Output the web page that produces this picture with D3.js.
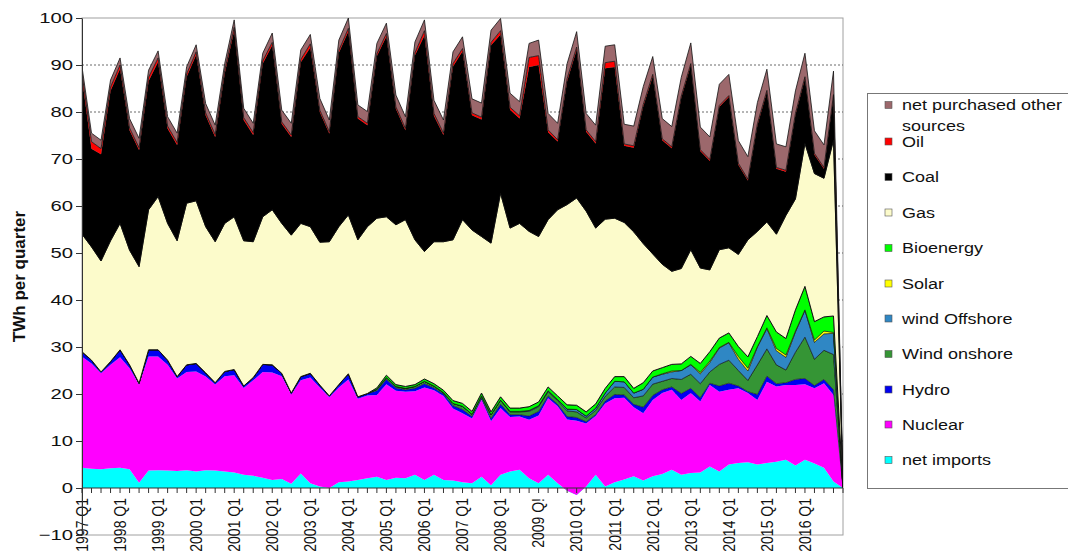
<!DOCTYPE html>
<html>
<head>
<meta charset="utf-8">
<script src="https://cdn.jsdelivr.net/npm/d3@7/dist/d3.min.js"></script>
<style>
  body { margin: 0; background: #fff; }
  svg { display: block; font-family: "Liberation Sans", Arial, sans-serif; }
</style>
</head>
<body>
<div id="chart"></div>
<script>
// Quarterly electricity supply, TWh per quarter (1997 Q1 - 2016 Q4, chart closes at 2017 Q1)
const years = [1997, 1998, 1999, 2000, 2001, 2002, 2003, 2004, 2005, 2006,
  2007, 2008, 2009, 2010, 2011, 2012, 2013, 2014, 2015, 2016];

const tickLabels = ["1997 Q1", "1998 Q1", "1999 Q1", "2000 Q1", "2001 Q1", "2002 Q1",
  "2003 Q1", "2004 Q1", "2005 Q1", "2006 Q1", "2007 Q1", "2008 Q1", "2009 Q!",
  "2010 Q1", "2011 Q1", "2012 Q1", "2013 Q1", "2014 Q1", "2015 Q1", "2016 Q1"];

const yTicks = [-10, 0, 10, 20, 30, 40, 50, 60, 70, 80, 90, 100];
const gridValues = [10, 20, 30, 40, 50, 60, 70, 80, 90];

const netImports = [
  4.3, 4.1, 4.0, 4.2,  4.3, 4.0, 1.1, 3.7,  3.8, 3.7, 3.6, 3.8,  3.5, 3.8, 3.7, 3.5,
  3.3, 2.8, 2.6, 2.2,  1.7, 1.9, 0.9, 3.1,  1.0, 0.3, 0.0, 1.2,  1.4, 1.7, 2.1, 2.4,
  1.7, 2.2, 2.1, 2.8,  1.7, 2.8, 1.7, 1.6,  1.2, 1.0, 2.4, 0.6,  2.8, 3.5, 3.9, 2.1,
  1.0, 2.8, 1.0, -0.6, -1.5, 0.3, 2.8, 0.3, 1.2, 1.8, 2.5, 1.6,  2.5, 3.0, 3.9, 2.8,
  3.2, 3.3, 4.6, 3.5,  5.0, 5.3, 5.5, 5.0,  5.3, 5.6, 6.0, 4.8,  6.0, 5.2, 4.3, 1.4,
  0];
const nuclear = [
  23.6, 22.4, 20.4, 22.0,  23.5, 21.5, 20.9, 24.3,  24.2, 22.5, 19.7, 20.9,  21.3, 19.9, 18.3, 20.3,
  20.7, 18.5, 20.3, 22.5,  22.9, 21.9, 19.0, 19.8,  22.5, 21.1, 19.3, 20.2,  21.7, 17.3, 17.6, 17.4,
  20.4, 18.5, 18.4, 17.8,  19.7, 18.0, 17.9, 15.3,  14.7, 13.8, 16.4, 13.6,  14.2, 11.6, 11.3, 12.4,
  14.4, 16.3, 16.4, 15.2,  15.8, 13.4, 12.5, 17.7,  17.9, 17.4, 14.7, 14.3,  16.2, 17.2, 17.0, 15.9,
  17.0, 15.1, 17.3, 17.0,  15.9, 15.9, 14.7, 13.7,  17.3, 16.0, 15.9, 17.1,  16.1, 16.0, 18.0, 18.4,
  0];
const hydro = [
  1.1, 0.7, 0.3, 0.7,  1.6, 0.7, 0.3, 1.4,  1.4, 1.0, 0.4, 1.5,  1.7, 0.8, 0.4, 1.0,
  1.2, 0.4, 0.6, 1.6,  1.6, 0.6, 0.3, 0.8,  0.9, 0.5, 0.3, 0.6,  1.2, 0.4, 0.4, 0.9,
  1.0, 0.6, 0.4, 0.6,  0.8, 0.5, 0.4, 0.6,  0.8, 0.4, 0.3, 0.6,  0.8, 0.5, 0.4, 0.8,
  0.9, 0.5, 0.4, 0.6,  0.7, 0.4, 0.3, 0.5,  0.8, 0.6, 0.6, 1.3,  1.0, 0.7, 0.6, 1.4,
  1.0, 0.8, 0.4, 1.2,  1.4, 0.5, 0.3, 1.2,  1.2, 0.6, 0.5, 1.2,  1.2, 0.6, 0.8, 1.1,
  0];
const windOnshore = [
  0, 0, 0, 0,  0, 0, 0, 0,  0, 0, 0, 0,  0, 0, 0, 0,
  0, 0, 0, 0,  0, 0, 0, 0,  0, 0, 0, 0,  0, 0, 0, 0.3,
  0.4, 0.3, 0.3, 0.4,  0.5, 0.4, 0.3, 0.5,  0.7, 0.5, 0.5, 0.8,  0.9, 0.6, 0.6, 1.0,
  1.0, 0.9, 0.8, 1.2,  1.2, 0.8, 0.9, 1.0,  1.6, 1.6, 1.4, 2.4,  2.4, 1.8, 1.8, 3.0,
  3.0, 3.0, 2.4, 4.6,  4.9, 3.3, 2.4, 6.3,  5.8, 4.0, 2.7, 5.8,  8.8, 5.6, 6.2, 7.5,
  0];
const windOffshore = [
  0, 0, 0, 0,  0, 0, 0, 0,  0, 0, 0, 0,  0, 0, 0, 0,
  0, 0, 0, 0,  0, 0, 0, 0,  0, 0, 0, 0,  0, 0, 0, 0,
  0, 0, 0, 0,  0, 0, 0, 0,  0, 0, 0, 0,  0, 0.1, 0.1, 0.2,
  0.2, 0.2, 0.2, 0.4,  0.5, 0.4, 0.5, 0.7,  1.2, 1.2, 1.0, 1.4,  1.5, 1.5, 1.4, 1.9,
  2.0, 2.1, 2.0, 3.5,  3.7, 2.4, 2.0, 3.8,  4.3, 3.0, 2.7, 4.3,  5.7, 3.6, 3.5, 4.5,
  0];
const solar = [
  0, 0, 0, 0,  0, 0, 0, 0,  0, 0, 0, 0,  0, 0, 0, 0,
  0, 0, 0, 0,  0, 0, 0, 0,  0, 0, 0, 0,  0, 0, 0, 0,
  0, 0, 0, 0,  0, 0, 0, 0,  0, 0, 0, 0,  0, 0, 0, 0,
  0, 0, 0, 0,  0, 0, 0, 0,  0, 0, 0, 0,  0, 0.1, 0.2, 0,
  0.1, 0.3, 0.3, 0.1,  0.1, 0.6, 0.6, 0.1,  0.2, 0.5, 0.5, 0.2,  0.1, 0.5, 0.6, 0.2,
  0];
const bioenergy = [
  0, 0, 0, 0,  0, 0, 0, 0,  0, 0, 0, 0,  0, 0, 0, 0,
  0, 0, 0, 0,  0, 0, 0, 0,  0, 0, 0, 0,  0, 0, 0, 0.3,
  0.5, 0.4, 0.4, 0.4,  0.5, 0.5, 0.5, 0.6,  0.6, 0.6, 0.6, 0.6,  0.7, 0.7, 0.7, 0.8,
  0.8, 0.8, 0.8, 0.9,  0.9, 0.9, 0.9, 1.0,  1.0, 1.1, 1.0, 1.4,  1.3, 1.3, 1.4, 1.4,
  1.7, 1.9, 2.0, 2.0,  2.0, 2.1, 2.4, 2.1,  2.6, 3.5, 3.5, 4.5,  5.0, 3.9, 3.0, 3.5,
  0];
const gas = [
  25.0, 24.1, 23.6, 25.7,  26.9, 24.4, 24.8, 29.8,  32.6, 29.1, 28.9, 34.4,  34.6, 31.1, 30.0, 31.5,
  32.5, 30.9, 28.9, 31.4,  33.0, 31.9, 33.6, 32.6,  31.2, 30.4, 32.8, 33.6,  33.8, 33.4, 35.5, 36.1,
  33.7, 34.0, 35.5, 30.8,  27.1, 30.2, 31.6, 34.2,  39.1, 38.6, 33.3, 35.9,  43.3, 38.3, 39.3, 37.3,
  35.2, 35.6, 39.6, 42.6,  44.1, 42.7, 37.4, 36.0,  33.7, 32.8, 33.3, 29.6,  24.9, 22.0, 19.8, 20.3,
  22.7, 20.3, 17.4, 18.8,  18.1, 19.6, 24.9, 22.4,  19.9, 20.8, 26.2, 23.6,  30.4, 31.5, 29.5, 37.4,
  0];
const coal = [
  33.3, 20.9, 22.7, 31.9,  32.9, 25.5, 24.8, 27.4,  28.7, 20.2, 20.4, 26.9,  31.1, 23.7, 22.3, 31.9,
  39.7, 25.7, 22.7, 32.6,  35.0, 21.2, 20.9, 34.3,  38.1, 27.7, 23.0, 37.0,  39.1, 25.8, 21.6, 34.5,
  38.4, 24.7, 19.0, 39.3,  46.0, 26.8, 22.7, 36.9,  35.8, 24.4, 24.9, 42.1,  33.8, 25.2, 22.3, 35.0,
  36.5, 18.6, 14.5, 26.3,  31.6, 16.9, 18.0, 32.1,  32.2, 16.3, 17.9, 29.2,  37.8, 26.4, 26.2, 36.4,
  39.3, 24.9, 23.2, 30.4,  32.1, 19.1, 12.6, 22.6,  27.7, 13.9, 9.3, 17.9,  13.9, 4.0, 2.0, 9.4,
  0];
const oil = [
  0.8, 1.5, 1.2, 0.8,  0.8, 0.5, 0.5, 0.8,  0.8, 0.5, 0.5, 0.6,  0.6, 0.5, 0.5, 0.6,
  0.6, 0.5, 0.5, 0.6,  0.6, 0.4, 0.4, 0.6,  0.8, 0.4, 0.4, 0.5,  0.6, 0.4, 0.4, 0.5,
  0.6, 0.4, 0.4, 0.5,  1.0, 0.5, 0.4, 0.6,  0.6, 0.5, 0.5, 0.6,  0.8, 0.5, 0.6, 2.0,
  2.0, 0.5, 0.4, 0.5,  0.5, 0.4, 0.4, 1.2,  1.2, 0.4, 0.4, 0.4,  0.4, 0.3, 0.3, 0.3,
  0.3, 0.3, 0.3, 0.3,  0.3, 0.3, 0.3, 0.3,  0.3, 0.3, 0.3, 0.3,  0.3, 0.3, 0.3, 0.3,
  0];
const otherSources = [
  1.5, 1.8, 1.8, 1.5,  1.5, 2.0, 2.0, 1.5,  1.5, 2.0, 2.0, 1.5,  1.5, 2.0, 2.0, 1.5,
  1.6, 2.0, 2.0, 1.6,  2.0, 2.5, 2.5, 2.0,  2.0, 2.5, 2.5, 2.2,  2.2, 2.5, 2.5, 2.2,
  2.2, 2.5, 2.5, 2.3,  2.3, 2.8, 2.8, 2.5,  2.5, 3.0, 3.0, 2.6,  2.6, 3.0, 3.0, 3.0,
  3.3, 3.5, 3.5, 3.2,  3.3, 3.5, 3.5, 3.5,  3.5, 4.2, 4.2, 3.8,  3.8, 4.3, 4.3, 4.0,
  4.4, 4.8, 4.8, 4.5,  4.5, 4.8, 4.8, 4.5,  4.5, 5.0, 5.0, 4.8,  5.0, 4.8, 4.8, 5.0,
  0];

// Stack order, bottom to top, with legend names and colours
const seriesKeys = ["imports", "nuclear", "hydro", "onshore", "offshore", "solar", "bio", "gas", "coal", "oil", "other"];
const seriesValues = {
  imports: netImports, nuclear: nuclear, hydro: hydro, onshore: windOnshore, offshore: windOffshore,
  solar: solar, bio: bioenergy, gas: gas, coal: coal, oil: oil, other: otherSources
};
const seriesNames = {
  other: "net purchased other sources", oil: "Oil", coal: "Coal", gas: "Gas", bio: "Bioenergy",
  solar: "Solar", offshore: "wind Offshore", onshore: "Wind onshore", hydro: "Hydro",
  nuclear: "Nuclear", imports: "net imports"
};
const seriesColors = {
  other: "#9c686c", oil: "#ff0000", coal: "#000000", gas: "#fcfbcb", bio: "#00ff00",
  solar: "#ffff00", offshore: "#2f87c4", onshore: "#359535", hydro: "#0000f0",
  nuclear: "#ff00ff", imports: "#00ffff"
};
const seriesStroke = {
  other: 0.8, oil: 0, coal: 0.6, gas: 1, bio: 0.6, solar: 0.5, offshore: 0.6, onshore: 0.6,
  hydro: 0, nuclear: 0, imports: 0
};

/**
 * Stacked area chart of quarterly supply
 */
class SupplyChart {
  constructor(container) {
    this.width = 1068;
    this.height = 551;
    this.plot = { left: 82, right: 843, top: 18, bottom: 535 };

    // category list: every quarter plus the closing 2017 Q1
    this.quarters = [];
    for (let yr of years) {
      for (let q of ["Q1", "Q2", "Q3", "Q4"]) this.quarters.push(yr + " " + q);
    }
    this.quarters.push("2017 Q1");

    this.rows = this.quarters.map((q, i) => {
      let row = { quarter: q };
      for (let k of seriesKeys) row[k] = seriesValues[k][i];
      return row;
    });

    this.svg = d3.select(container).append("svg")
      .attr("width", this.width)
      .attr("height", this.height);

    this.x = d3.scalePoint().domain(this.quarters).range([this.plot.left, this.plot.right]);
    this.y = d3.scaleLinear().domain([-10, 100]).range([this.plot.bottom, this.plot.top]);

    this.drawFrame();
    this.drawAreas();
    this.drawAxes();
    this.drawLegend();
  }

  drawFrame() {
    let p = this.plot;
    this.svg.append("rect")
      .attr("x", p.left).attr("y", p.top)
      .attr("width", p.right - p.left).attr("height", p.bottom - p.top)
      .attr("fill", "#fff").attr("stroke", "#a0a0a0");

    // dotted grid, mostly hidden behind the areas
    this.svg.append("g").selectAll("line").data(gridValues).join("line")
      .attr("x1", p.left).attr("x2", p.right)
      .attr("y1", d => this.y(d)).attr("y2", d => this.y(d))
      .attr("stroke", "#444").attr("stroke-width", 0.8)
      .attr("stroke-dasharray", "2,2");
  }

  drawAreas() {
    let p = this.plot;
    this.svg.append("clipPath").attr("id", "plotClip")
      .append("rect")
      .attr("x", p.left).attr("y", p.top)
      .attr("width", p.right - p.left).attr("height", p.bottom - p.top);

    let stack = d3.stack().keys(seriesKeys).offset(d3.stackOffsetNone);
    let layers = stack(this.rows);

    let area = d3.area()
      .x(d => this.x(d.data.quarter))
      .y0(d => this.y(d[0]))
      .y1(d => this.y(d[1]));

    this.svg.append("g").attr("clip-path", "url(#plotClip)")
      .selectAll("path").data(layers).join("path")
      .attr("d", area)
      .attr("fill", d => seriesColors[d.key])
      .attr("stroke", d => seriesStroke[d.key] ? "#111" : "none")
      .attr("stroke-width", d => seriesStroke[d.key])
      .attr("stroke-linejoin", "round");
  }

  drawAxes() {
    let p = this.plot;
    let y0 = this.y(0);

    // category axis along the zero line
    let xAxis = this.svg.append("g");
    xAxis.append("line")
      .attr("x1", p.left).attr("x2", p.right)
      .attr("y1", y0).attr("y2", y0)
      .attr("stroke", "#333").attr("stroke-width", 1);
    xAxis.selectAll(".qtick").data(this.quarters).join("line")
      .attr("class", "qtick")
      .attr("x1", d => this.x(d)).attr("x2", d => this.x(d))
      .attr("y1", y0).attr("y2", y0 + 5)
      .attr("stroke", "#333");

    let labelled = this.quarters.filter(q => q.endsWith("Q1") && q !== "2017 Q1");
    xAxis.selectAll(".qlabel").data(labelled).join("text")
      .attr("class", "qlabel")
      .attr("transform", d => "translate(" + this.x(d) + "," + (y0 + 10) + ") rotate(-90) scale(1,1.15)")
      .attr("text-anchor", "end")
      .attr("dy", "0.36em")
      .attr("font-size", 14)
      .attr("fill", "#111")
      .text((d, i) => tickLabels[i]);

    // value axis
    let yAxis = this.svg.append("g")
      .attr("transform", "translate(" + p.left + ",0)")
      .call(d3.axisLeft(this.y).tickValues(yTicks).tickSize(6).tickSizeOuter(0));
    yAxis.select(".domain").attr("stroke", "#333");
    yAxis.selectAll(".tick line").attr("stroke", "#333");
    yAxis.selectAll(".tick text")
      .attr("font-family", "'Liberation Sans', Arial, sans-serif")
      .attr("font-size", 15)
      .attr("fill", "#111")
      .attr("transform", "scale(1.35,1)")
      .attr("x", -9 / 1.35);

    this.svg.append("text")
      .attr("transform", "translate(19," + ((p.top + p.bottom) / 2) + ") rotate(-90)")
      .attr("text-anchor", "middle")
      .attr("dy", "0.35em")
      .attr("font-size", 17)
      .attr("font-weight", "bold")
      .attr("fill", "#111")
      .text("TWh per quarter");
  }

  drawLegend() {
    let legend = this.svg.append("g");
    legend.append("rect")
      .attr("x", 867.5).attr("y", 93.5)
      .attr("width", 220).attr("height", 395)
      .attr("fill", "#fff").attr("stroke", "#777");

    let order = seriesKeys.slice().reverse();
    let rowY = [105, 141.5, 177, 212.5, 248, 283.5, 318.5, 354, 389.5, 424.5, 460];

    order.forEach((key, i) => {
      let cy = rowY[i];
      legend.append("rect")
        .attr("x", 885).attr("y", cy - 3.5)
        .attr("width", 7).attr("height", 7)
        .attr("fill", seriesColors[key])
        .attr("stroke", "#555").attr("stroke-width", 0.6);

      let lines = key === "other" ? ["net purchased other", "sources"] : [seriesNames[key]];
      lines.forEach((line, j) => {
        legend.append("text")
          .attr("transform", "translate(902," + (cy + j * 21) + ") scale(1.2,1)")
          .attr("dy", "0.35em")
          .attr("font-size", 15)
          .attr("fill", "#111")
          .text(line);
      });
    });
  }
}

let supplyChart = new SupplyChart("#chart");
</script>
</body>
</html>
